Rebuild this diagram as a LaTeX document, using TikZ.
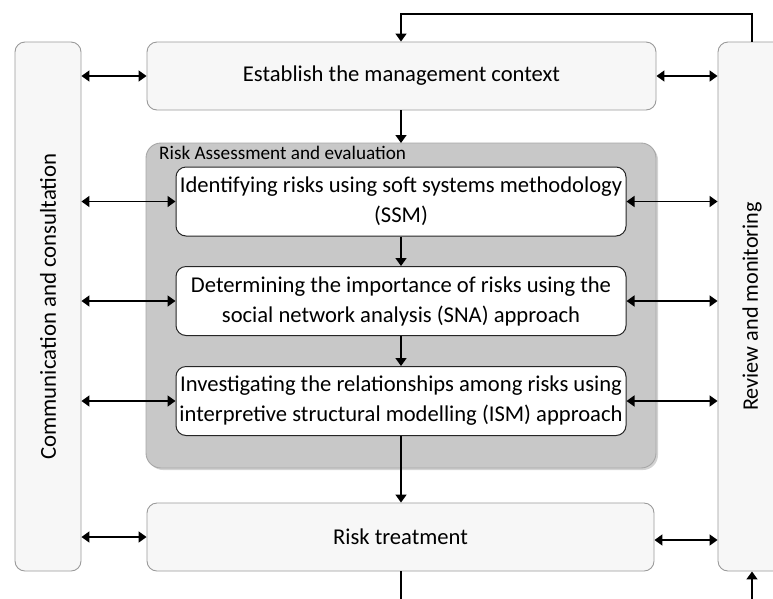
\documentclass[tikz,border=0pt]{standalone}
\usepackage{fontspec}
\setmainfont{Carlito}
\usetikzlibrary{arrows.meta,shadows}
\definecolor{outerfill}{HTML}{F7F7F7}
\definecolor{outerline}{HTML}{9A9A9A}
\definecolor{grayfill}{HTML}{C8C8C8}
\definecolor{grayline}{HTML}{A6A6A6}
\begin{document}
\begin{tikzpicture}[x=1pt,y=-1pt,
  outerbox/.style={draw=outerline, fill=outerfill, rounded corners=10pt, line width=0.9pt, inner sep=0pt},
  innerbox/.style={draw=black!85, fill=white, rounded corners=10pt, line width=1pt, inner sep=0pt,
    minimum width=450pt, minimum height=69pt, align=center, font=\fontsize{22.6}{30}\selectfont},
  grpbox/.style={draw=grayline, fill=grayfill, rounded corners=15pt, line width=0.9pt,
    drop shadow={shadow xshift=2pt, shadow yshift=-2pt, opacity=0.35}},
  arr/.style={line width=1.6pt, -{Triangle[length=8pt,width=11pt]}},
  darr/.style={line width=1.6pt, {Triangle[length=8pt,width=11pt]}-{Triangle[length=8pt,width=11pt]}},
  plain/.style={line width=1.6pt}
]
\useasboundingbox (0,0) rectangle (773,598);
\clip (0,0) rectangle (773,598);
% side boxes
\node[outerbox, minimum width=66pt, minimum height=529pt] (comm) at (48,306.5)
  {\rotatebox{90}{\fontsize{22.8}{26}\selectfont Communication and consultation}};
\node[outerbox, minimum width=68pt, minimum height=529pt] (rev) at (752,306.5)
  {\rotatebox{90}{\fontsize{22.2}{26}\selectfont Review and monitoring}};
% establish
\node[outerbox, minimum width=509pt, minimum height=68pt, font=\fontsize{22.6}{26}\selectfont] (est) at (401.5,76) {Establish the management context};
% group
\path[grpbox] (146,143) rectangle (656,468);
\node[anchor=west, font=\fontsize{19.2}{22}\selectfont, inner sep=0pt] (grplbl) at (159,153) {Risk Assessment and evaluation};
\coordinate (grptop) at (401,143);
% inner boxes
\node[innerbox] (i1) at (401,201.5) {Identifying risks using soft systems methodology\\(SSM)};
\node[innerbox] (i2) at (401,301) {Determining the importance of risks using the\\social network analysis (SNA) approach};
\node[innerbox] (i3) at (401,401) {Investigating the relationships among risks using\\interpretive structural modelling (ISM) approach};
% risk treatment
\node[outerbox, minimum width=507pt, minimum height=68pt, font=\fontsize{22.6}{26}\selectfont] (rt) at (400.5,537) {Risk treatment};
% vertical flow
\draw[arr] (est.south -| grptop) -- (grptop);
\draw[arr] (i1) -- (i2);
\draw[arr] (i2) -- (i3);
\draw[arr] (i3.south) -- (rt.north -| i3.south);
% feedback
\coordinate (top) at (401,14);
\coordinate (bot) at (401,600);
\draw[arr] (rev.north) |- (top) -- (est.north -| top);
\draw[plain] (rt.south -| bot) -- (bot);
\draw[arr] (rev.south |- bot) -- (rev.south);
% left double arrows
\draw[darr] (comm.east |- est) -- (est.west);
\draw[darr] (comm.east |- i1) -- (i1.west);
\draw[darr] (comm.east |- i2) -- (i2.west);
\draw[darr] (comm.east |- i3) -- (i3.west);
\draw[darr] (comm.east |- rt) -- (rt.west);
% right double arrows
\draw[darr] (est.east) -- (rev.west |- est);
\draw[darr] (i1.east) -- (rev.west |- i1);
\draw[darr] (i2.east) -- (rev.west |- i2);
\draw[darr] (i3.east) -- (rev.west |- i3);
\draw[darr] ([yshift=-3pt]rt.east) -- ([yshift=-3pt]rev.west |- rt);
\end{tikzpicture}
\end{document}
